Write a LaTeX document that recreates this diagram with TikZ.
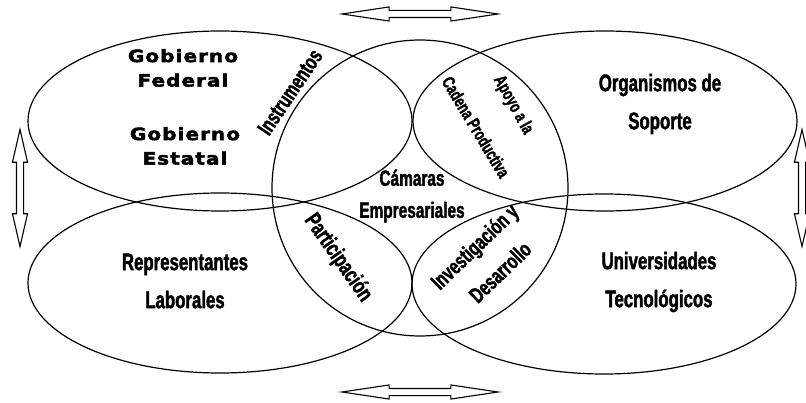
\documentclass[tikz,border=0pt]{standalone}
\usepackage{fontspec}
\usetikzlibrary{shapes.geometric,shapes.arrows}
\newfontfamily\narrowfont[FakeStretch=0.70,RawFeature={embolden=1.6}]{Liberation Sans Bold}
\newfontfamily\widefont[FakeStretch=1.18,LetterSpace=6,RawFeature={embolden=2.5}]{DejaVu Sans Bold}

\begin{document}
\begin{tikzpicture}[x=1pt,y=-1pt,line width=1.2pt,
        set/.style={ellipse,draw,inner sep=0pt,minimum width=384pt,minimum height=180pt},
        lbl/.style={font=\narrowfont\fontsize{24}{38}\selectfont,align=center,inner sep=0pt},
        sublbl/.style={font=\narrowfont\fontsize{#1}{#1}\selectfont,inner sep=0pt},
        gob/.style={font=\widefont\fontsize{17}{24.5}\selectfont,align=center,inner sep=0pt},
        dbl/.style={double arrow,draw,inner xsep=0pt,inner ysep=3pt,line width=1.1pt,
            double arrow head extend=3.5pt,double arrow tip angle=17}]
        \useasboundingbox (0,0) rectangle (806,403);
        % the five sets
        \node [set] (gobierno) at (220,121) {};
        \node [set] (soporte) at (605,121) {};
        \node [set] (laboral) at (220,283) {};
        \node [set] (univ) at (604,284) {};
        \node [circle,draw,inner sep=0pt,minimum size=296pt] (camaras) at (420,188) {};
        % labels
        \node [gob] (gobfed) at (183,68) {Gobierno\\Federal};
        \node [gob] (gobest) at (185,146) {Gobierno\\Estatal};
        \node [lbl] (orgtext) at (660,104) {Organismos de\\Soporte};
        \node [lbl] (reptext) at (185,281) {Representantes\\Laborales};
        \node [lbl] (unitext) at (659,282) {Universidades\\Tecnológicos};
        \node [lbl,font=\narrowfont\fontsize{22}{32}\selectfont] (camtext) at (412,196) {Cámaras\\Empresariales};
        % overlaps
        \node [sublbl=22,rotate=56] (instr) at (290,92) {Instrumentos};
        \node [sublbl=18,rotate=-61] (apoyo) at (513,105) {Apoyo a la};
        \node [sublbl=18,rotate=-59] (cadena) at (476,127) {Cadena Productiva};
        \node [sublbl=23,rotate=-55] (partic) at (338,258) {Participación};
        \node [sublbl=22,rotate=44] (invest) at (476,248) {Investigación y};
        \node [sublbl=22,rotate=44] (desarr) at (500,272) {Desarrollo};
        % double arrows
        \node [dbl,minimum height=156pt] (toparr) at (420,14) {};
        \node [dbl,minimum height=156pt] (botarr) at (420,392) {};
        \node [dbl,minimum height=117pt,double arrow head extend=4pt,double arrow tip angle=26,rotate=90] (leftarr) at (20,188) {};
        \node [dbl,minimum height=117pt,double arrow head extend=4pt,double arrow tip angle=26,rotate=90] (rightarr) at (802,188) {};
    \end{tikzpicture}
\end{document}
